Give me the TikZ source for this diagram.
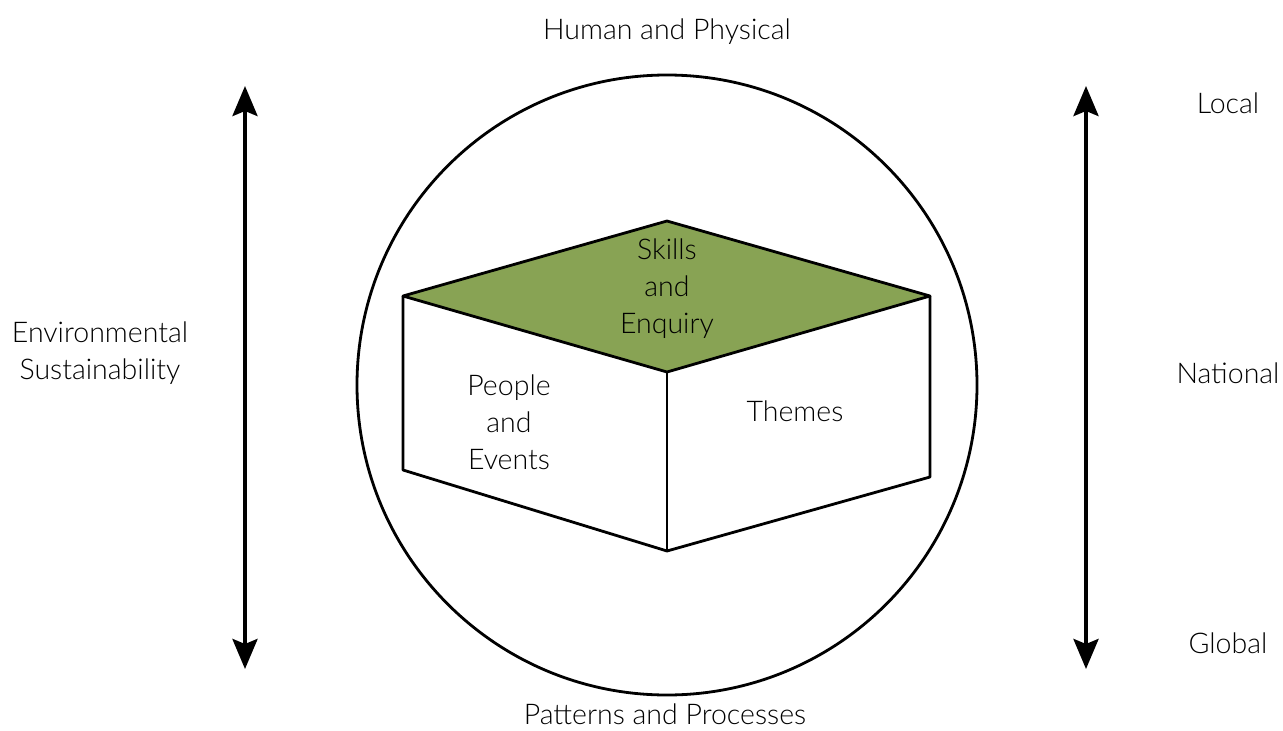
\documentclass[tikz,border=0pt]{standalone}
\usepackage{fontspec}
\setmainfont{Lato Light}
\usetikzlibrary{arrows.meta}
\definecolor{topgreen}{RGB}{136,163,84}
\tikzset{
  lbl/.style={font=\fontsize{28.5}{37}\selectfont, align=center, inner sep=0pt},
  edge/.style={line width=2.8pt, line join=round},
  bigarrow/.style={line width=4pt, {Stealth[length=30pt,width=25pt,inset=5pt]}-{Stealth[length=30pt,width=25pt,inset=5pt]}}
}
\begin{document}
\begin{tikzpicture}[x=1pt,y=-1pt]
\useasboundingbox (0,0) rectangle (1283,731);
% circle
\node[circle, draw, line width=2.8pt, minimum size=620pt, inner sep=0pt] (circ) at (667,385) {};
% cube corners
\coordinate (T) at (667,221);
\coordinate (L) at (403,296);
\coordinate (R) at (930,296);
\coordinate (F) at (667,372);
\coordinate (BL) at (403,470);
\coordinate (B) at (667,551);
\coordinate (BR) at (930,477);
\fill[topgreen] (T) -- (R) -- (F) -- (L) -- cycle;
\draw[edge] (L) -- (T) -- (R) -- (F) -- cycle;
\draw[edge] (L) -- (BL) -- (B) -- (BR) -- (R);
\draw[edge] (F) -- (B);
% arrows
\coordinate (la1) at (245,86);
\coordinate (la2) at (245,669);
\coordinate (ra1) at (1086,86);
\coordinate (ra2) at (1086,669);
\draw[bigarrow] (la1) -- (la2);
\draw[bigarrow] (ra1) -- (ra2);
% labels
\node[lbl] (hp) at (667,32) {Human and Physical};
\node[font=\fontsize{28.5}{37}\selectfont, inner sep=0pt, anchor=base] (pp) at (665,724) {Patterns and Processes};
\node[lbl] (loc) at (1228,103) {Local};
\node[lbl] (nat) at (1228,373) {National};
\node[lbl] (glo) at (1228,643) {Global};
\node[lbl] (env) at (100,353) {Environmental\\Sustainability};
\node[lbl] (ske) at (667,289) {Skills\\and\\Enquiry};
\node[lbl] (pe) at (509,422) {People\\and\\Events};
\node[lbl] (th) at (795,411) {Themes};
\end{tikzpicture}
\end{document}
